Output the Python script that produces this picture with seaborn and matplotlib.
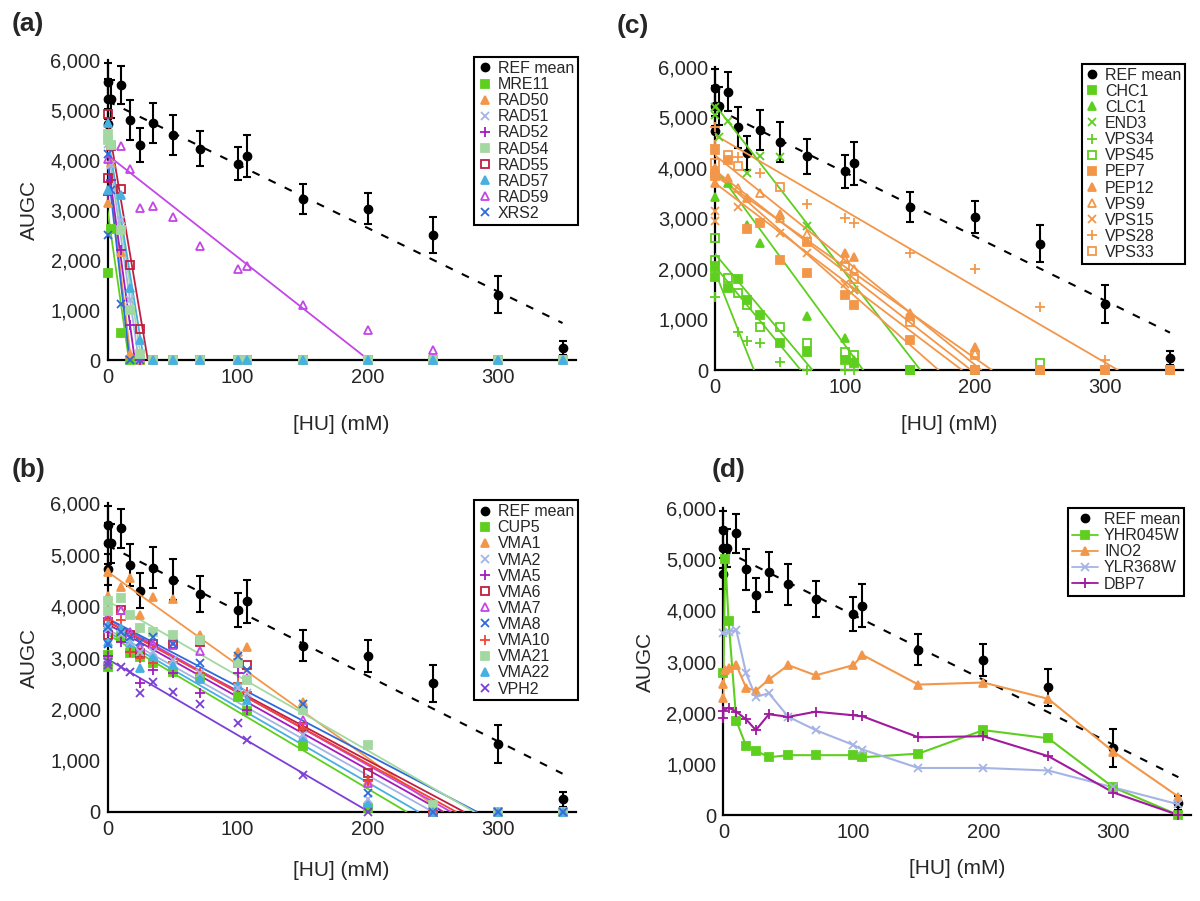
import numpy as np
import seaborn as sns
import matplotlib
matplotlib.use("Agg")
from matplotlib import pyplot as plt
from matplotlib.lines import Line2D
from matplotlib.ticker import FuncFormatter

nan = np.nan

# ---- REF mean (shown in every panel) ----
ref_x = [0, 0, 0, 3, 10, 17.5, 25, 35, 50, 71, 100, 107, 150, 200, 250, 300, 350]
ref_y = [5570, 5220, 4720, 5220, 5510, 4800, 4300, 4750, 4510, 4230, 3930, 4090, 3230, 3030, 2500, 1310, 240]
ref_err = [380, 400, 300, 380, 380, 400, 340, 400, 400, 350, 330, 420, 300, 310, 360, 370, 140]
ref_fit_x = [0, 350]
ref_fit_y = [5180, 740]

# ---- (a) ----
a_x = [0, 0, 3, 10, 17.5, 25, 35, 50, 71, 100, 107, 150, 200, 250, 300, 350]
a_genes = ["MRE11", "RAD50", "RAD51", "RAD52", "RAD54", "RAD55", "RAD57", "RAD59", "XRS2"]
mre11 = [1750, nan, 2620, 540, 0, 0, 0, 0, 0, 0, 0, 0, 0, 0, 0, 0]
rad50 = [3150, nan, 3950, 2170, 130, 0, 0, 0, 0, 0, 0, 0, 0, 0, 0, 0]
rad51 = [4330, nan, 3900, 2800, 1200, 0, 0, 0, 0, 0, 0, 0, 0, 0, 0, 0]
rad52 = [3300, nan, 3600, 2200, 700, 0, 0, 0, 0, 0, 0, 0, 0, 0, 0, 0]
rad54 = [4520, 4400, 4300, 2600, 1000, 130, 0, 0, 0, 0, 0, 0, 0, 0, 0, 0]
rad55 = [4920, 3650, 4280, 3420, 1900, 630, 0, 0, 0, 0, 0, 0, 0, 0, 0, 0]
rad57 = [4750, 3400, nan, 3300, 1450, 400, 0, 0, 0, 0, 0, 0, 0, 0, 0, 0]
rad59 = [4020, nan, 4320, 4290, 3820, 3040, 3090, 2870, 2290, 1820, 1880, 1100, 610, 200, 0, 0]
xrs2 = [2500, 4120, 3400, 1120, 0, 0, 0, 0, 0, 0, 0, 0, 0, 0, 0, 0]
a_fit_y0 = [3000, 4000, 4300, 4000, 4500, 4800, 4500, 4100, 3900]
a_fit_xend = [16.5, 18, 24, 21, 26, 31, 28, 201, 17]

# ---- (b) ----
b_x = [0, 0, 10, 17.5, 25, 35, 50, 71, 100, 107, 150, 200, 250, 300, 350]
b_genes = ["CUP5", "VMA1", "VMA2", "VMA5", "VMA6", "VMA7", "VMA8", "VMA10", "VMA21", "VMA22", "VPH2"]
cup5 = [2820, 3050, 3400, 3090, 3010, 2890, 2720, 2630, 2240, 1950, 1270, 70, 0, 0, 0]
vma1 = [4670, 4200, 4380, 4540, 3830, 4180, 4130, 3440, 3110, 3210, 2140, 600, 0, 0, 0]
vma2 = [3550, nan, 3450, 3300, 3100, 3100, 2950, 2700, 2400, 2300, 1500, 250, 0, 0, 0]
vma5 = [3020, 3500, 3300, 3100, 2500, 2760, 2690, 2300, 2700, 1970, 1600, 620, 0, 0, 0]
vma6 = [3440, 3700, 3920, 3440, 3080, 3260, 3260, 3310, 2900, 2850, 1650, 750, 0, 0, 0]
vma7 = [3800, nan, 3920, 3500, 3200, 3260, 3250, 3130, 2900, 2600, 1780, 550, 0, 0, 0]
vma8 = [3260, 3600, 3500, 3400, 3300, 3400, 3260, 2890, 3020, 2760, 2100, 370, 0, 0, 0]
vma10 = [3730, nan, 3730, 3110, 3000, 2900, 2920, 2700, 2500, 2330, 1600, 600, 0, 0, 0]
vma21 = [4090, 3900, 4150, 3830, 3570, 3500, 3440, 3340, 2890, 2560, 1970, 1300, 130, 0, 0]
vma22 = [3630, 3300, 3570, 3280, 2790, 3020, 2850, 2590, 2460, 2170, 1450, 160, 0, 0, 0]
vph2 = [2920, 2850, 2820, 2720, 2310, 2530, 2330, 2100, 1720, 1390, 710, 0, 0, 0, 0]
b_fit_y0 = [3450, 4670, 3550, 3650, 3700, 3750, 3760, 3700, 4100, 3500, 2970]
b_fit_xend = [230, 258, 250, 258, 274, 264, 284, 268, 282, 239, 201]

# ---- (c) ----
c_x = [0, 0, 3, 10, 17.5, 25, 35, 50, 71, 100, 107, 150, 200, 250, 300, 350]
c_genes = ["CHC1", "CLC1", "END3", "VPS34", "VPS45", "PEP7", "PEP12", "VPS9", "VPS15", "VPS28", "VPS33"]
chc1 = [1850, 2050, nan, 1620, 1800, 1390, 1090, 530, 360, 200, 130, 0, 0, 0, 0, 0]
clc1 = [3430, nan, nan, 3700, nan, 2870, 2510, 3070, 1070, 630, 200, 0, 0, 0, 0, 0]
end3 = [5050, 5200, 4620, 4920, nan, 3890, 4240, 4220, 2840, nan, 1580, 0, 0, 0, 0, 0]
vps34 = [1450, 1950, nan, nan, 760, 570, 530, 150, 0, 0, 0, 0, 0, 0, 0, 0]
vps45 = [2610, 2180, nan, 1820, 1520, 1290, 860, 860, 530, 360, 300, 0, 0, 130, 0, 0]
pep7 = [4360, 3830, nan, 4160, nan, 2800, 2900, 2180, 1910, 1490, 1290, 590, 0, 0, 0, 0]
pep12 = [3700, 4000, nan, 3800, nan, 3400, nan, 3090, 2550, 2320, 2230, 1120, 450, 0, 0, 0]
vps9 = [3900, nan, nan, nan, 3600, nan, 3500, 3000, 2700, 2200, 2000, 1060, 330, 0, 0, 0]
vps15 = [3140, 2950, nan, nan, 3230, nan, nan, 2710, 2310, 1700, 1580, 1020, 0, 0, 0, 0]
vps28 = [4800, 4450, nan, nan, 4220, nan, 3890, nan, 3290, 3000, 2900, 2310, 1990, 1250, 200, 0]
vps33 = [4100, 3900, nan, 4260, 4030, nan, nan, 3630, 2540, 2050, 1800, 960, 300, 0, 0, 0]
c_fit_y0 = [2050, 4000, 5250, 1950, 2300, 3900, 3850, 3950, 3700, 4650, 4250]
c_fit_xend = [66, 114, 158, 30, 75, 172, 213, 197, 190, 310, 205]

# ---- (d) ----
d_x = [0, 0, 1.5, 4, 10, 17.5, 25, 35, 50, 71, 100, 107, 150, 200, 250, 300, 350]
d_genes = ["YHR045W", "INO2", "YLR368W", "DBP7"]
yhr045w = [2770, nan, 5010, 3800, 1840, 1350, 1260, 1130, 1170, 1170, 1170, 1130, 1200, 1660, 1500, 540, 0]
ino2 = [2280, 2570, 2830, 2870, 2930, 2490, 2430, 2650, 2930, 2730, 2930, 3130, 2550, 2590, 2270, 1240, 360]
ylr368w = [3550, nan, nan, 3580, 3610, 2770, 2310, 2380, 1920, 1660, 1370, 1280, 920, 920, 870, 540, 210]
dbp7 = [1890, 2040, nan, 2100, 2020, 1870, 1660, 1970, 1920, 2020, 1950, 1930, 1520, 1540, 1150, 440, 0]

# colours / markers
GREEN = "#5fcf1f"
ORANGE = "#f2974a"
PERI = "#a5b4e4"
PURPLE = "#a21bbd"
LGREEN = "#a3d9a0"
DRED = "#c0203e"
CYAN = "#47b0e0"
MAGENTA = "#c446e6"
BLUE = "#2f6bd8"
RED = "#f04434"
VIOLET = "#7b3fd6"

# (color, marker, filled)
a_style = [(GREEN, "s", True), (ORANGE, "^", True), (PERI, "x", True), (PURPLE, "+", True),
           (LGREEN, "s", True), (DRED, "s", False), (CYAN, "^", True), (MAGENTA, "^", False),
           (BLUE, "x", True)]
b_style = [(GREEN, "s", True), (ORANGE, "^", True), (PERI, "x", True), (PURPLE, "+", True),
           (DRED, "s", False), (MAGENTA, "^", False), (BLUE, "x", True), (RED, "+", True),
           (LGREEN, "s", True), (CYAN, "^", True), (VIOLET, "x", True)]
c_style = [(GREEN, "s", True), (GREEN, "^", True), (GREEN, "x", True), (GREEN, "+", True),
           (GREEN, "s", False), (ORANGE, "s", True), (ORANGE, "^", True), (ORANGE, "^", False),
           (ORANGE, "x", True), (ORANGE, "+", True), (ORANGE, "s", False)]
d_style = [(GREEN, "s", True), (ORANGE, "^", True), (PERI, "x", True), ("#a0199e", "+", True)]

# genes whose markers sit on top where points overlap
a_top = ["RAD54", "RAD57"]
b_top = ["VMA2", "VMA8"]
c_top = ["PEP7", "PEP12"]

MS = {"s": 5.2, "^": 6, "x": 6, "+": 7.5, "o": 6}

sns.set_style("white")
plt.rcParams["font.family"] = ["Liberation Sans", "DejaVu Sans"]

fig = plt.figure(figsize=(12, 9.01), dpi=100)
ax_a = fig.add_axes([0.0896, 0.6004, 0.39, 0.333])
ax_b = fig.add_axes([0.0896, 0.0991, 0.39, 0.3423])
ax_c = fig.add_axes([0.5958, 0.5893, 0.39, 0.3366])
ax_d = fig.add_axes([0.6028, 0.0954, 0.39, 0.3407])


def marker_kw(color, marker, filled):
    return dict(marker=marker, ms=MS[marker], color=color,
                mfc=color if filled else "none", mec=color, mew=1.3)


def draw_ref(ax):
    ax.errorbar(ref_x, ref_y, yerr=ref_err, fmt="o", ms=6, color="black",
                ecolor="black", elinewidth=1.5, capsize=3, capthick=1.5,
                zorder=2, clip_on=False)
    ax.plot(ref_fit_x, ref_fit_y, color="black", lw=1.5,
            linestyle=(0, (3.8, 4.8)), zorder=2)


def style_axes(ax, xpad, ylabel=True):
    ax.set_xlim(0, 360)
    ax.set_ylim(0, 6000)
    ax.set_xticks([0, 100, 200, 300])
    ax.set_yticks(range(0, 6001, 1000))
    ax.yaxis.set_major_formatter(FuncFormatter(lambda v, p: f"{v:,.0f}"))
    for s in ["top", "right"]:
        ax.spines[s].set_visible(False)
    for s in ["left", "bottom"]:
        ax.spines[s].set_color("black")
        ax.spines[s].set_linewidth(1.6)
    ax.tick_params(axis="y", length=4, width=1.2, direction="inout", labelsize=14.5, pad=3)
    ax.tick_params(axis="x", length=0, labelsize=14.5, pad=6)
    ax.set_xlabel("[HU] (mM)", fontsize=15, labelpad=xpad)
    if ylabel:
        ax.set_ylabel("AUGC", fontsize=15, labelpad=8)
    ax.grid(False)


def add_legend(ax, genes, styles, with_lines=False, anchor=(1.005, 1.01)):
    handles = [Line2D([], [], ls="none", marker="o", ms=6, color="black")]
    for c, m, f in styles:
        handles.append(Line2D([], [], ls="-" if with_lines else "none", lw=1.3,
                              **marker_kw(c, m, f)))
    leg = ax.legend(handles, ["REF mean"] + genes, loc="upper right",
                    bbox_to_anchor=anchor, frameon=True, fancybox=False,
                    edgecolor="black", framealpha=1, fontsize=11.5,
                    borderpad=0.25, labelspacing=0.07,
                    handlelength=1.6 if with_lines else 0.8,
                    handletextpad=0.4, borderaxespad=0.0)
    leg.get_frame().set_linewidth(1.5)


def fit_panel(ax, xs, genes, series, y0s, xends, styles, top, xpad, ylabel=True):
    draw_ref(ax)
    for name, ys, y0, xe, (c, m, f) in zip(genes, series, y0s, xends, styles):
        sns.lineplot(x=[0, xe], y=[y0, 0], ax=ax, color=c, lw=1.3,
                     estimator=None, legend=False, zorder=3)
        z = 5 if name in top else 4
        ax.plot(xs, ys, ls="none", zorder=z, clip_on=False, **marker_kw(c, m, f))
    style_axes(ax, xpad, ylabel)
    add_legend(ax, genes, styles)


fit_panel(ax_a, a_x, a_genes, [mre11, rad50, rad51, rad52, rad54, rad55, rad57, rad59, xrs2],
          a_fit_y0, a_fit_xend, a_style, a_top, 20)
fit_panel(ax_b, b_x, b_genes, [cup5, vma1, vma2, vma5, vma6, vma7, vma8, vma10, vma21, vma22, vph2],
          b_fit_y0, b_fit_xend, b_style, b_top, 16)
fit_panel(ax_c, c_x, c_genes, [chc1, clc1, end3, vps34, vps45, pep7, pep12, vps9, vps15, vps28, vps33],
          c_fit_y0, c_fit_xend, c_style, c_top, 13, ylabel=False)

# (d) connected lines
draw_ref(ax_d)
for name, ys, (c, m, f) in zip(d_genes, [yhr045w, ino2, ylr368w, dbp7], d_style):
    xs = [x for x, y in zip(d_x, ys) if not np.isnan(y)]
    yv = [y for y in ys if not np.isnan(y)]
    sns.lineplot(x=xs, y=yv, ax=ax_d, color=c, lw=1.5, estimator=None,
                 sort=False, legend=False, zorder=3)
    ax_d.plot(xs, yv, ls="none", zorder=4, clip_on=False, **marker_kw(c, m, f))
style_axes(ax_d, 12)
add_legend(ax_d, d_genes, d_style, with_lines=True, anchor=(0.985, 1.0))

for txt, x, y in [("(a)", 12, 12), ("(b)", 12, 458), ("(c)", 617, 14), ("(d)", 712, 458)]:
    fig.text(x / 1200, 1 - y / 901, txt, fontsize=19, fontweight="bold",
             ha="left", va="top")

fig.savefig("out.png", dpi=100)
